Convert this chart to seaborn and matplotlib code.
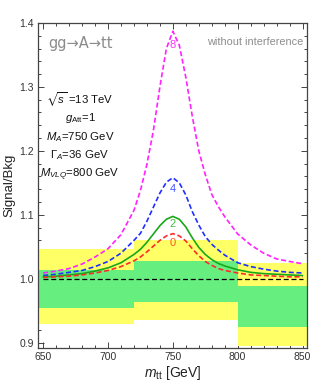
import numpy as np
import pandas as pd
import matplotlib
matplotlib.use("Agg")
import matplotlib.pyplot as plt
from matplotlib.ticker import MultipleLocator
import seaborn as sns

# mass grid (GeV) and Signal/Bkg
mass = [650, 660, 670, 680, 690, 700, 710, 720, 725, 730, 735, 740, 745, 750,
        755, 760, 765, 770, 775, 780, 785, 790, 800, 810, 820, 830, 840, 850]
ratio_8 = [1.009, 1.012, 1.016, 1.023, 1.034, 1.047, 1.069, 1.107, 1.138, 1.179, 1.232, 1.300, 1.360, 1.387,
           1.365, 1.315, 1.254, 1.200, 1.163, 1.132, 1.113, 1.097, 1.070, 1.053, 1.040, 1.031, 1.027, 1.0235]
ratio_4 = [1.005, 1.007, 1.010, 1.013, 1.019, 1.027, 1.040, 1.060, 1.071, 1.090, 1.112, 1.134, 1.151, 1.158,
           1.150, 1.131, 1.105, 1.084, 1.066, 1.054, 1.045, 1.037, 1.025, 1.019, 1.015, 1.012, 1.010, 1.009]
ratio_2 = [1.003, 1.004, 1.006, 1.008, 1.012, 1.017, 1.025, 1.038, 1.046, 1.057, 1.070, 1.083, 1.093, 1.0975,
           1.093, 1.081, 1.064, 1.049, 1.038, 1.030, 1.024, 1.020, 1.014, 1.010, 1.008, 1.007, 1.006, 1.005]
ratio_0 = [1.002, 1.003, 1.004, 1.006, 1.009, 1.013, 1.019, 1.028, 1.034, 1.042, 1.051, 1.060, 1.067, 1.0705,
           1.067, 1.059, 1.047, 1.036, 1.027, 1.021, 1.016, 1.013, 1.009, 1.006, 1.005, 1.004, 1.003, 1.003]
curve_labels = ["8", "4", "2", "0"]

# uncertainty bands per mass bin
bin_edges = [640, 720, 800, 860]
yellow_lo = [0.930, 0.936, 0.895]
yellow_hi = [1.046, 1.061, 1.024]
green_lo = [0.955, 0.964, 0.924]
green_hi = [1.013, 1.027, 0.988]

baseline_x = [650, 850]
baseline_y = [1.0, 1.0]

sns.set_theme(style="ticks")
plt.rcParams["font.family"] = ["Liberation Sans", "DejaVu Sans"]
plt.rcParams["mathtext.fontset"] = "custom"
plt.rcParams["mathtext.rm"] = "Liberation Sans"
plt.rcParams["mathtext.it"] = "Liberation Sans:italic"
plt.rcParams["mathtext.bf"] = "Liberation Sans:bold"
plt.rcParams["mathtext.fallback"] = "stixsans"

fig = plt.figure(figsize=(3.13, 3.83), dpi=100)
ax = fig.add_axes([0.1214, 0.0914, 0.8596, 0.8486])

# bands
ax.fill_between(bin_edges, yellow_lo + [yellow_lo[-1]], yellow_hi + [yellow_hi[-1]],
                step="post", color="#ffff66", lw=0, zorder=1)
ax.fill_between(bin_edges, green_lo + [green_lo[-1]], green_hi + [green_hi[-1]],
                step="post", color="#66ee7e", lw=0, zorder=2)

df = pd.DataFrame({"mass": mass, "8": ratio_8, "4": ratio_4, "2": ratio_2, "0": ratio_0})
styles = {
    "8": dict(color="#ff22ff", dashes=(3, 1.6)),
    "4": dict(color="#1f2fff", dashes=(3, 1.6)),
    "2": dict(color="#18a818", dashes=None),
    "0": dict(color="#ff2a2a", dashes=(3, 1.6)),
}
label_colors = {"8": "#ff33ff", "4": "#4455ff", "2": "#44bb44", "0": "#ff5522"}
label_offset = {"8": -0.022, "4": -0.018, "2": -0.012, "0": -0.015}

for lab in curve_labels:
    st = styles[lab]
    sns.lineplot(data=df, x="mass", y=lab, ax=ax, color=st["color"], lw=1.2,
                 sort=False, zorder=4)
    if st["dashes"] is not None:
        ax.lines[-1].set_dashes(st["dashes"])
    peak = df[lab].max()
    ax.text(750, peak + label_offset[lab], lab, color=label_colors[lab],
            ha="center", va="center", fontsize=8, zorder=5)

ax.plot(baseline_x, baseline_y, color="black", lw=0.9, dashes=(4, 2.2), zorder=3)

ax.set_xlim(646, 853.5)
ax.set_ylim(0.8917, 1.4)
ax.xaxis.set_major_locator(MultipleLocator(50))
ax.xaxis.set_minor_locator(MultipleLocator(10))
ax.yaxis.set_major_locator(MultipleLocator(0.1))
ax.yaxis.set_minor_locator(MultipleLocator(0.02))
ax.yaxis.set_major_formatter(matplotlib.ticker.FormatStrFormatter("%.1f"))
ax.tick_params(which="both", direction="in", top=True, right=True, colors="#444444",
               labelcolor="#333333", labelsize=7.5, width=0.7, pad=3)
ax.tick_params(which="major", length=4)
ax.tick_params(which="minor", length=2)
for sp in ax.spines.values():
    sp.set_color("#444444")
    sp.set_linewidth(0.9)

ax.set_xlabel(r"$m_{\rm tt}$ [GeV]", fontsize=10, color="#222222", labelpad=1)
ax.set_ylabel("Signal/Bkg", fontsize=9.5, color="#222222", labelpad=3)

ax.text(0.037, 0.9375, "gg\u2192A\u2192tt", transform=ax.transAxes, family=["DejaVu Sans"],
        fontsize=10.5, color="#8c8c8c", ha="left", va="center")
ax.text(0.985, 0.94, "without interference", transform=ax.transAxes, fontsize=7.8,
        color="#8c8c8c", ha="right", va="center")

params = [r"$\sqrt{s}$ =13 TeV", r"$g_{\rm Att}$=1", r"$M_A$=750 GeV",
          r"$\Gamma_A$=36 GeV", r"$M_{VLQ}$=800 GeV"]
param_y = [0.763, 0.707, 0.650, 0.592, 0.532]
for txt, yy in zip(params, param_y):
    ax.text(0.156, yy, txt, transform=ax.transAxes, fontsize=8.2, color="#111111",
            ha="center", va="center")

fig.savefig("out.png", dpi=100)
